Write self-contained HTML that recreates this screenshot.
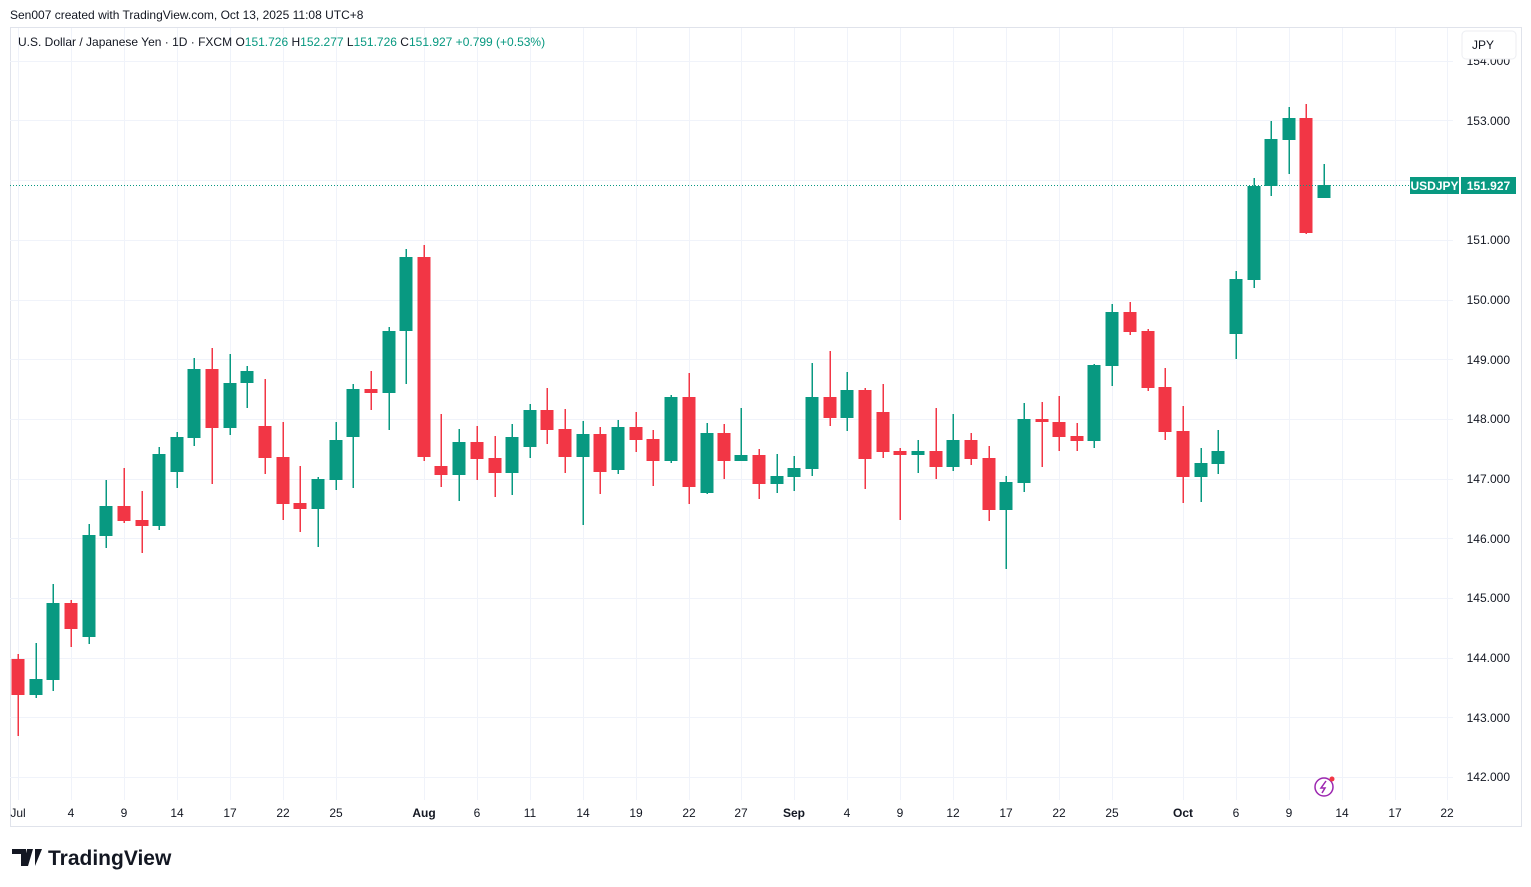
<!DOCTYPE html>
<html><head><meta charset="utf-8"><style>
html,body{margin:0;padding:0;background:#fff;width:1531px;height:887px;overflow:hidden;font-family:"Liberation Sans",sans-serif}
svg{position:absolute;left:0;top:0}
</style></head><body>
<svg width="1531" height="887" xmlns="http://www.w3.org/2000/svg" font-family="Liberation Sans, sans-serif">
<rect x="10.5" y="27.5" width="1511" height="799" fill="none" stroke="#e0e3eb"/>
<g stroke="#f0f3fa" stroke-width="1">
<path d="M10 61.5H1453M10 120.5H1453M10 180.5H1453M10 240.5H1453M10 300.5H1453M10 359.5H1453M10 419.5H1453M10 479.5H1453M10 538.5H1453M10 598.5H1453M10 658.5H1453M10 717.5H1453M10 777.5H1453"/>
<path d="M18.5 28V800M71.5 28V800M124.5 28V800M177.5 28V800M230.5 28V800M283.5 28V800M336.5 28V800M424.5 28V800M477.5 28V800M530.5 28V800M583.5 28V800M636.5 28V800M689.5 28V800M741.5 28V800M794.5 28V800M847.5 28V800M900.5 28V800M953.5 28V800M1006.5 28V800M1059.5 28V800M1112.5 28V800M1183.5 28V800M1236.5 28V800M1289.5 28V800M1342.5 28V800M1395.5 28V800M1447.5 28V800"/>
</g>
<g fill="#f23645" shape-rendering="crispEdges">
<rect x="17.5" y="654" width="1.5" height="82"/><rect x="11.5" y="659" width="13" height="36"/>
<rect x="70.5" y="600" width="1.5" height="47"/><rect x="64.5" y="603" width="13" height="26"/>
<rect x="123.5" y="468" width="1.5" height="55"/><rect x="117.5" y="506" width="13" height="15"/>
<rect x="141.5" y="491" width="1.5" height="62"/><rect x="135.5" y="520" width="13" height="6"/>
<rect x="211.5" y="348" width="1.5" height="136"/><rect x="205.5" y="369" width="13" height="59"/>
<rect x="264.5" y="379" width="1.5" height="95"/><rect x="258.5" y="426" width="13" height="32"/>
<rect x="282.5" y="422" width="1.5" height="98"/><rect x="276.5" y="457" width="13" height="47"/>
<rect x="299.5" y="466" width="1.5" height="66"/><rect x="293.5" y="503" width="13" height="6"/>
<rect x="370.5" y="371" width="1.5" height="39"/><rect x="364.5" y="389" width="13" height="4"/>
<rect x="423.5" y="245" width="1.5" height="216"/><rect x="417.5" y="257" width="13" height="200"/>
<rect x="440.5" y="414" width="1.5" height="73"/><rect x="434.5" y="466" width="13" height="9"/>
<rect x="476.5" y="426" width="1.5" height="54"/><rect x="470.5" y="442" width="13" height="17"/>
<rect x="494.5" y="436" width="1.5" height="61"/><rect x="488.5" y="458" width="13" height="15"/>
<rect x="546.5" y="388" width="1.5" height="56"/><rect x="540.5" y="410" width="13" height="20"/>
<rect x="564.5" y="409" width="1.5" height="64"/><rect x="558.5" y="429" width="13" height="28"/>
<rect x="599.5" y="427" width="1.5" height="67"/><rect x="593.5" y="434" width="13" height="38"/>
<rect x="635.5" y="412" width="1.5" height="40"/><rect x="629.5" y="427" width="13" height="13"/>
<rect x="652.5" y="430" width="1.5" height="56"/><rect x="646.5" y="439" width="13" height="22"/>
<rect x="688.5" y="373" width="1.5" height="131"/><rect x="682.5" y="397" width="13" height="90"/>
<rect x="723.5" y="424" width="1.5" height="55"/><rect x="717.5" y="433" width="13" height="28"/>
<rect x="758.5" y="449" width="1.5" height="50"/><rect x="752.5" y="455" width="13" height="29"/>
<rect x="829.5" y="351" width="1.5" height="75"/><rect x="823.5" y="397" width="13" height="21"/>
<rect x="864.5" y="388" width="1.5" height="101"/><rect x="858.5" y="390" width="13" height="69"/>
<rect x="882.5" y="384" width="1.5" height="74"/><rect x="876.5" y="412" width="13" height="40"/>
<rect x="899.5" y="448" width="1.5" height="72"/><rect x="893.5" y="451" width="13" height="4"/>
<rect x="935.5" y="408" width="1.5" height="71"/><rect x="929.5" y="451" width="13" height="16"/>
<rect x="970.5" y="433" width="1.5" height="32"/><rect x="964.5" y="440" width="13" height="19"/>
<rect x="988.5" y="446" width="1.5" height="75"/><rect x="982.5" y="458" width="13" height="52"/>
<rect x="1041.5" y="402" width="1.5" height="65"/><rect x="1035.5" y="419" width="13" height="3"/>
<rect x="1058.5" y="396" width="1.5" height="55"/><rect x="1052.5" y="422" width="13" height="15"/>
<rect x="1076.5" y="423" width="1.5" height="28"/><rect x="1070.5" y="436" width="13" height="5"/>
<rect x="1129.5" y="302" width="1.5" height="33"/><rect x="1123.5" y="312" width="13" height="20"/>
<rect x="1147.5" y="329" width="1.5" height="62"/><rect x="1141.5" y="331" width="13" height="57"/>
<rect x="1164.5" y="368" width="1.5" height="72"/><rect x="1158.5" y="387" width="13" height="45"/>
<rect x="1182.5" y="406" width="1.5" height="97"/><rect x="1176.5" y="431" width="13" height="46"/>
<rect x="1305.5" y="104" width="1.5" height="130"/><rect x="1299.5" y="118" width="13" height="115"/>
</g>
<g fill="#089981" shape-rendering="crispEdges">
<rect x="35.5" y="643" width="1.5" height="55"/><rect x="29.5" y="679" width="13" height="16"/>
<rect x="52.5" y="584" width="1.5" height="107"/><rect x="46.5" y="603" width="13" height="77"/>
<rect x="88.5" y="524" width="1.5" height="120"/><rect x="82.5" y="535" width="13" height="102"/>
<rect x="105.5" y="480" width="1.5" height="68"/><rect x="99.5" y="506" width="13" height="30"/>
<rect x="158.5" y="447" width="1.5" height="83"/><rect x="152.5" y="454" width="13" height="72"/>
<rect x="176.5" y="432" width="1.5" height="56"/><rect x="170.5" y="437" width="13" height="35"/>
<rect x="193.5" y="358" width="1.5" height="88"/><rect x="187.5" y="369" width="13" height="69"/>
<rect x="229.5" y="354" width="1.5" height="81"/><rect x="223.5" y="383" width="13" height="45"/>
<rect x="246.5" y="366" width="1.5" height="42"/><rect x="240.5" y="371" width="13" height="12"/>
<rect x="317.5" y="477" width="1.5" height="70"/><rect x="311.5" y="479" width="13" height="30"/>
<rect x="335.5" y="422" width="1.5" height="68"/><rect x="329.5" y="440" width="13" height="40"/>
<rect x="352.5" y="384" width="1.5" height="104"/><rect x="346.5" y="389" width="13" height="48"/>
<rect x="388.5" y="327" width="1.5" height="103"/><rect x="382.5" y="331" width="13" height="62"/>
<rect x="405.5" y="249" width="1.5" height="135"/><rect x="399.5" y="257" width="13" height="74"/>
<rect x="458.5" y="429" width="1.5" height="72"/><rect x="452.5" y="442" width="13" height="33"/>
<rect x="511.5" y="424" width="1.5" height="71"/><rect x="505.5" y="437" width="13" height="36"/>
<rect x="529.5" y="404" width="1.5" height="54"/><rect x="523.5" y="410" width="13" height="37"/>
<rect x="582.5" y="421" width="1.5" height="104"/><rect x="576.5" y="434" width="13" height="23"/>
<rect x="617.5" y="420" width="1.5" height="54"/><rect x="611.5" y="427" width="13" height="43"/>
<rect x="670.5" y="395" width="1.5" height="68"/><rect x="664.5" y="397" width="13" height="64"/>
<rect x="706.5" y="423" width="1.5" height="71"/><rect x="700.5" y="433" width="13" height="60"/>
<rect x="740.5" y="408" width="1.5" height="53"/><rect x="734.5" y="455" width="13" height="6"/>
<rect x="776.5" y="454" width="1.5" height="39"/><rect x="770.5" y="476" width="13" height="8"/>
<rect x="793.5" y="456" width="1.5" height="35"/><rect x="787.5" y="468" width="13" height="9"/>
<rect x="811.5" y="363" width="1.5" height="113"/><rect x="805.5" y="397" width="13" height="72"/>
<rect x="846.5" y="372" width="1.5" height="59"/><rect x="840.5" y="390" width="13" height="28"/>
<rect x="917.5" y="440" width="1.5" height="33"/><rect x="911.5" y="451" width="13" height="4"/>
<rect x="952.5" y="414" width="1.5" height="57"/><rect x="946.5" y="440" width="13" height="27"/>
<rect x="1005.5" y="476" width="1.5" height="93"/><rect x="999.5" y="482" width="13" height="28"/>
<rect x="1023.5" y="403" width="1.5" height="89"/><rect x="1017.5" y="419" width="13" height="64"/>
<rect x="1093.5" y="364" width="1.5" height="84"/><rect x="1087.5" y="365" width="13" height="76"/>
<rect x="1111.5" y="304" width="1.5" height="82"/><rect x="1105.5" y="312" width="13" height="54"/>
<rect x="1200.5" y="448" width="1.5" height="54"/><rect x="1194.5" y="463" width="13" height="14"/>
<rect x="1217.5" y="430" width="1.5" height="44"/><rect x="1211.5" y="451" width="13" height="13"/>
<rect x="1235.5" y="271" width="1.5" height="88"/><rect x="1229.5" y="279" width="13" height="55"/>
<rect x="1253.5" y="178" width="1.5" height="110"/><rect x="1247.5" y="186" width="13" height="94"/>
<rect x="1270.5" y="121" width="1.5" height="75"/><rect x="1264.5" y="139" width="13" height="47"/>
<rect x="1288.5" y="107" width="1.5" height="67"/><rect x="1282.5" y="118" width="13" height="22"/>
<rect x="1323.5" y="164" width="1.5" height="34"/><rect x="1317.5" y="185" width="13" height="13"/>
</g>
<line x1="10" y1="185.5" x2="1410" y2="185.5" stroke="#089981" stroke-dasharray="1 2"/>
<g font-size="12" fill="#131722" text-anchor="end">
<text x="1510" y="65">154.000</text>
<text x="1510" y="125">153.000</text>
<text x="1510" y="244">151.000</text>
<text x="1510" y="304">150.000</text>
<text x="1510" y="364">149.000</text>
<text x="1510" y="423">148.000</text>
<text x="1510" y="483">147.000</text>
<text x="1510" y="543">146.000</text>
<text x="1510" y="602">145.000</text>
<text x="1510" y="662">144.000</text>
<text x="1510" y="722">143.000</text>
<text x="1510" y="781">142.000</text>
</g>
<rect x="1462" y="31" width="54" height="28" rx="4" fill="#fff" stroke="#eceef2"/>
<text x="1472" y="49" font-size="12" fill="#131722">JPY</text>
<rect x="1410" y="177" width="49" height="17" fill="#089981"/>
<rect x="1461" y="177" width="55" height="17" fill="#089981"/>
<text x="1434.5" y="190" font-size="12" font-weight="bold" fill="#fff" text-anchor="middle">USDJPY</text>
<text x="1488.5" y="190" font-size="12" font-weight="bold" fill="#fff" text-anchor="middle">151.927</text>
<g font-size="12" fill="#131722" text-anchor="middle">
<text x="18" y="817">Jul</text><text x="71" y="817">4</text><text x="124" y="817">9</text><text x="177" y="817">14</text><text x="230" y="817">17</text><text x="283" y="817">22</text><text x="336" y="817">25</text><text x="424" y="817" font-weight="bold">Aug</text><text x="477" y="817">6</text><text x="530" y="817">11</text><text x="583" y="817">14</text><text x="636" y="817">19</text><text x="689" y="817">22</text><text x="741" y="817">27</text><text x="794" y="817" font-weight="bold">Sep</text><text x="847" y="817">4</text><text x="900" y="817">9</text><text x="953" y="817">12</text><text x="1006" y="817">17</text><text x="1059" y="817">22</text><text x="1112" y="817">25</text><text x="1183" y="817" font-weight="bold">Oct</text><text x="1236" y="817">6</text><text x="1289" y="817">9</text><text x="1342" y="817">14</text><text x="1395" y="817">17</text><text x="1447" y="817">22</text>
</g>
<circle cx="1324" cy="787" r="9" fill="none" stroke="#9c27b0" stroke-width="1.5"/>
<path d="M1326 781 L1321 788 H1325 L1322 793" fill="none" stroke="#9c27b0" stroke-width="1.5"/>
<circle cx="1332" cy="779" r="2.5" fill="#f23645"/>
<text x="10" y="19" font-size="12" fill="#131722">Sen007 created with TradingView.com, Oct 13, 2025 11:08 UTC+8</text>
<text x="18" y="46" font-size="12" fill="#131722">U.S. Dollar / Japanese Yen · 1D · FXCM <tspan>O</tspan><tspan fill="#089981">151.726 </tspan><tspan>H</tspan><tspan fill="#089981">152.277 </tspan><tspan>L</tspan><tspan fill="#089981">151.726 </tspan><tspan>C</tspan><tspan fill="#089981">151.927 +0.799 (+0.53%)</tspan></text>
<path d="M12 849H26V866H21V854H12Z M27 849H33L28 866H23Z M35 849H42L35 866Z" fill="#131722"/>
<text x="48" y="865" font-size="21" font-weight="bold" fill="#131722">TradingView</text>
</svg>
</body></html>
